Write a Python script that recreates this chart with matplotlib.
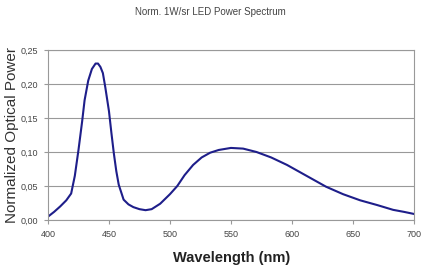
import numpy as np
import matplotlib
matplotlib.use("Agg")
import matplotlib.pyplot as plt
from matplotlib.ticker import FuncFormatter

plt.rcParams['font.family'] = ['Liberation Sans', 'DejaVu Sans']

# valori
wavelength = [400, 405, 410, 415, 419, 422, 425, 428, 430, 433, 436, 439, 441, 443, 445,
              447, 450, 452, 454, 456, 458, 462, 466, 470, 475, 480, 485, 492, 500, 506,
              512, 519, 526, 533, 540, 550, 560, 571, 583, 596, 610, 628, 642, 656, 670,
              683, 692, 700]
power = [0.005, 0.012, 0.020, 0.029, 0.039, 0.065, 0.103, 0.145, 0.176, 0.205, 0.222, 0.230,
         0.230, 0.225, 0.216, 0.195, 0.160, 0.128, 0.098, 0.072, 0.052, 0.030, 0.023, 0.019,
         0.016, 0.0145, 0.016, 0.024, 0.038, 0.050, 0.066, 0.081, 0.092, 0.099, 0.103, 0.106,
         0.105, 0.100, 0.092, 0.081, 0.067, 0.049, 0.038, 0.029, 0.022, 0.015, 0.012, 0.009]

fig = plt.figure(figsize=(4.21, 2.70), dpi=100)
ax = fig.add_axes([0.114, 0.185, 0.869, 0.63])

ax.plot(wavelength, power, color='#1e1e8a', lw=1.5, solid_joinstyle='round')

ax.set_xlim(400, 700)
ax.set_ylim(0, 0.25)
ax.set_xticks(np.arange(400, 701, 50))
ax.set_yticks(np.arange(0, 0.251, 0.05))
ax.yaxis.set_major_formatter(FuncFormatter(lambda v, p: f"{v:.2f}".replace('.', ',')))
ax.grid(axis='y', color='#999999', lw=0.8)
ax.set_axisbelow(True)
for s in ax.spines.values():
    s.set_color('#999999')
    s.set_linewidth(0.8)
ax.tick_params(axis='both', labelsize=6.5, colors='#444444', length=3, width=0.8, pad=4)
ax.tick_params(axis='both', color='#999999')

fig.text(0.5, 0.955, "Norm. 1W/sr LED Power Spectrum", ha='center', va='center',
         fontsize=7, color='#444444')
fig.text(0.028, 0.5, "Normalized Optical Power", rotation=90, ha='center', va='center',
         fontsize=11, color='#333333')
fig.text(0.55, 0.045, "Wavelength (nm)", ha='center', va='center',
         fontsize=10.5, fontweight='bold', color='#222222')

fig.savefig("out.png", dpi=100)
